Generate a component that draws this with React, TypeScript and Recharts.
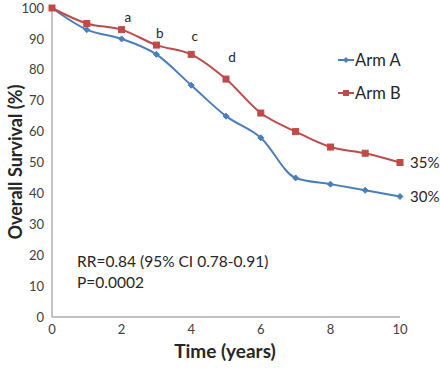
import { LineChart, Line, XAxis, YAxis, Legend, ReferenceDot, Customized } from 'recharts';

const years = [0, 1, 2, 3, 4, 5, 6, 7, 8, 9, 10];
const armA = [100, 93, 90, 85, 75, 65, 58, 45, 43, 41, 39];
const armB = [100, 95, 93, 88, 85, 77, 66, 60, 55, 53, 50];
const xTicks = [0, 2, 4, 6, 8, 10];
const yTicks = [0, 10, 20, 30, 40, 50, 60, 70, 80, 90, 100];

const data = years.map((t, i) => ({ t, armA: armA[i], armB: armB[i] }));

const BLUE = '#4A7EBB';
const RED = '#BE4B48';
const FONT = 'Lato, "Open Sans", sans-serif';

const Diamond = (props: any) => {
  const { cx, cy } = props;
  if (cx == null || cy == null) return null;
  return <path d={`M${cx},${cy - 3}L${cx + 3},${cy}L${cx},${cy + 3}L${cx - 3},${cy}Z`} fill={BLUE} stroke={BLUE} />;
};

const Square = (props: any) => {
  const { cx, cy } = props;
  if (cx == null || cy == null) return null;
  return <rect x={cx - 3} y={cy - 3} width={6} height={6} fill={RED} stroke={RED} />;
};

const LegendBox = () => (
  <div style={{ fontFamily: FONT, fontSize: 16.5, color: '#262626' }}>
    {[{ name: 'Arm A', color: BLUE, sq: false }, { name: 'Arm B', color: RED, sq: true }].map((it, i) => (
      <div key={it.name} style={{ display: 'flex', alignItems: 'center', height: 20, marginBottom: i === 0 ? 13 : 0 }}>
        <svg width={16} height={10}>
          <line x1={0} y1={5} x2={16} y2={5} stroke={it.color} strokeWidth={2} />
          {it.sq ? (
            <rect x={5} y={2} width={6} height={6} fill={it.color} />
          ) : (
            <path d="M8,2L11,5L8,8L5,5Z" fill={it.color} />
          )}
        </svg>
        <span style={{ marginLeft: 1 }}>{it.name}</span>
      </div>
    ))}
  </div>
);

const Notes = () => (
  <g fontFamily={FONT} fill="#262626">
    <text x={77} y={267} fontSize={15.5}>RR=0.84 (95% CI 0.78-0.91)</text>
    <text x={77} y={288} fontSize={15.5}>P=0.0002</text>
    <text x={225} y={358} fontSize={19} fontWeight="bold" textAnchor="middle">Time (years)</text>
    <text
      x={22}
      y={162}
      fontSize={18}
      fontWeight="bold"
      textAnchor="middle"
      transform="rotate(-90 22 162)"
    >
      Overall Survival (%)
    </text>
  </g>
);

const Tag = (text: string) => (props: any) => {
  const { viewBox } = props;
  return (
    <text x={viewBox.x} y={viewBox.y} fontFamily={FONT} fontSize={13.5} fill="#262626" textAnchor="middle" dominantBaseline="central">
      {text}
    </text>
  );
};

export default function App() {
  return (
    <div style={{ position: 'absolute', left: 0, top: 0, background: '#fff' }}>
      <LineChart width={440} height={369} data={data} margin={{ top: 8, right: 40, bottom: 22, left: 22 }}>
        <XAxis
          dataKey="t"
          type="number"
          domain={[0, 10]}
          ticks={xTicks}
          tickLine={false}
          axisLine={{ stroke: '#868686' }}
          tick={{ fill: '#404040', fontSize: 13, fontFamily: FONT }}
          height={30}
        />
        <YAxis
          domain={[0, 100]}
          ticks={yTicks}
          tickLine={false}
          axisLine={{ stroke: '#868686' }}
          tick={{ fill: '#404040', fontSize: 13, fontFamily: FONT }}
          width={30}
        />
        <Legend layout="vertical" align="center" verticalAlign="middle" content={<LegendBox />} wrapperStyle={{ top: 50, left: 338, width: 'auto' }} />
        <Line type="monotone" dataKey="armA" name="Arm A" stroke={BLUE} strokeWidth={2} dot={<Diamond />} isAnimationActive={false} />
        <Line type="monotone" dataKey="armB" name="Arm B" stroke={RED} strokeWidth={2} dot={<Square />} isAnimationActive={false} />
        <ReferenceDot x={2.18} y={97} r={0} label={Tag('a')} />
        <ReferenceDot x={3.1} y={92} r={0} label={Tag('b')} />
        <ReferenceDot x={4.1} y={91} r={0} label={Tag('c')} />
        <ReferenceDot x={5.17} y={84} r={0} label={Tag('d')} />
        <Customized component={Notes} />
      </LineChart>
      <div style={{ position: 'absolute', left: 410, top: 153, fontFamily: FONT, fontSize: 15, color: '#262626' }}>35%</div>
      <div style={{ position: 'absolute', left: 410, top: 187, fontFamily: FONT, fontSize: 15, color: '#262626' }}>30%</div>
    </div>
  );
}
